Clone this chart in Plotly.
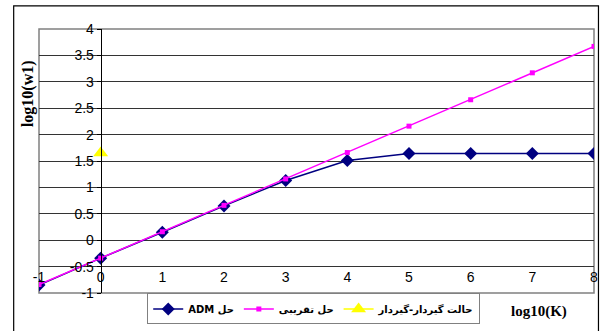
import plotly.graph_objects as go

# log10(K) sample points and results
log_k = [-1, 0, 1, 2, 3, 4, 5, 6, 7, 8]
adm_solution = [-0.85, -0.34, 0.15, 0.65, 1.13, 1.51, 1.64, 1.64, 1.64, 1.64]
approx_solution = [-0.84, -0.34, 0.16, 0.66, 1.16, 1.66, 2.16, 2.66, 3.17, 3.67]
clamped_x = [0]
clamped_y = [1.65]

series_names = ["حل ADM", "حل تقریبی", "حالت گیردار-گیردار"]
y_ticks = [-1, -0.5, 0, 0.5, 1, 1.5, 2, 2.5, 3, 3.5, 4]
x_ticks = [-1, 0, 1, 2, 3, 4, 5, 6, 7, 8]

W, H = 605, 331
L, R, T, B = 39, 7, 29, 34
pw, ph = W - L - R, H - T - B


def px(xp):
    return (xp - L) / pw


def py(yp):
    return (H - B - yp) / ph


def rtl(s):
    # right-to-left embedding so mixed Persian/Latin labels read correctly
    return "\u202b" + s + "\u202c"


fig = go.Figure()
fig.add_trace(go.Scatter(
    x=log_k, y=adm_solution, name=rtl(series_names[0]), mode="lines+markers",
    line=dict(color="#000080", width=1.5),
    marker=dict(symbol="diamond", size=10, color="#000080"),
))
fig.add_trace(go.Scatter(
    x=log_k, y=approx_solution, name=rtl(series_names[1]), mode="lines+markers",
    line=dict(color="#FF00FF", width=1.5),
    marker=dict(symbol="square", size=5, color="#FF00FF"),
))
fig.add_trace(go.Scatter(
    x=clamped_x, y=clamped_y, name=rtl(series_names[2]), mode="lines+markers",
    line=dict(color="#FFFF00", width=1.5),
    marker=dict(symbol="triangle-up", size=13, color="#FFFF00"),
))

tick_font = dict(family="Liberation Sans Narrow, Liberation Sans, Arial", size=14, color="#000")

fig.update_layout(
    width=W, height=H,
    margin=dict(l=L, r=R, t=T, b=B),
    paper_bgcolor="white", plot_bgcolor="white",
    showlegend=True,
    legend=dict(
        orientation="h", x=px(148), y=py(297.5), xanchor="left", yanchor="top",
        bordercolor="#808080", borderwidth=1, bgcolor="white",
        font=dict(family="DejaVu Sans", size=10, color="#000", weight="bold"),
        traceorder="normal", itemwidth=30,
    ),
    xaxis=dict(
        range=[-1, 8], tickvals=x_ticks, ticktext=[str(v) for v in x_ticks],
        showgrid=False, zeroline=False, showline=False,
        ticks="", ticklabelposition="inside", ticklabelstandoff=5,
        ticklabeloverflow="allow", tickfont=tick_font,
    ),
    yaxis=dict(
        range=[-1, 4], tickvals=y_ticks, ticktext=[f"{v:g}" for v in y_ticks],
        anchor="free", position=1 / 9,
        showgrid=True, gridcolor="#333", gridwidth=1, zeroline=False,
        showline=True, linecolor="#000", linewidth=1,
        ticks="outside", ticklen=4, tickcolor="#000",
        tickfont=tick_font,
    ),
    shapes=[
        # plot area frame
        dict(type="rect", xref="paper", yref="paper", x0=0, x1=1, y0=0, y1=1,
             line=dict(color="#808080", width=1.5), layer="below"),
        # chart outer frame
        dict(type="rect", xref="paper", yref="paper",
             x0=px(13.5), x1=px(602.5), y0=py(340), y1=py(5.5),
             line=dict(color="#000", width=1.2)),
    ],
    annotations=[
        dict(text="<b>log10(w1)</b>", xref="paper", yref="paper",
             x=px(28), y=py(95), xanchor="center", yanchor="middle",
             textangle=-90, showarrow=False,
             font=dict(family="Liberation Serif", size=16, color="#000")),
        dict(text="<b>log10(K)</b>", xref="paper", yref="paper",
             x=px(543), y=py(316), xanchor="center", yanchor="middle",
             showarrow=False,
             font=dict(family="Liberation Serif", size=15, color="#000")),
    ],
)

fig.write_html("out.html")
